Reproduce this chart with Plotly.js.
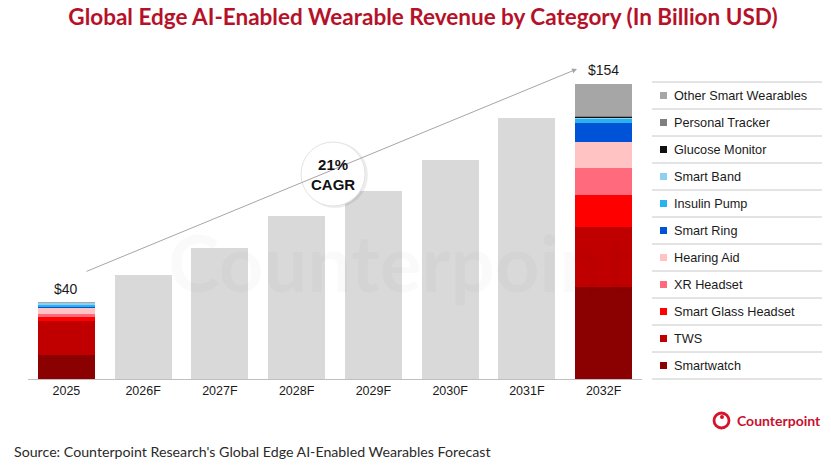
<!DOCTYPE html>
<html><head><meta charset="utf-8">
<script src="https://cdn.plot.ly/plotly-3.0.1.min.js"></script>
<style>html,body{margin:0;padding:0;background:#fff}#chart{width:831px;height:466px}</style>
</head><body><div id="chart"></div>
<script>
// ---- Data ----
const years = ["2025","2026F","2027F","2028F","2029F","2030F","2031F","2032F"];
const totals = [40, 54, 68, 85, 98, 114, 136, 154];
const totalLabels = ["$40", "", "", "", "", "", "", "$154"];
// stacking order bottom -> top
const categories = ["Smartwatch","TWS","Smart Glass Headset","XR Headset","Hearing Aid","Smart Ring","Insulin Pump","Smart Band","Glucose Monitor","Personal Tracker","Other Smart Wearables"];
const colors = ["#8b0000","#c00000","#ff0000","#ff6b7d","#ffc3c3","#0052d6","#29b2f0","#8fd0f2","#111111","#7f7f7f","#a6a6a6"];
const values2025 = [12.5, 17.8, 2.1, 1.4, 3.1, 0.8, 0.6, 1.2, 0.1, 0.1, 0.3];
const values2032 = [47.7, 31.2, 16.8, 13.9, 13.9, 9.5, 2.1, 0.9, 0.4, 0.5, 16.6];
const cagrText = "21%<br>CAGR";

// ---- Geometry (layout only) ----
const W = 831, H = 466;
const M = {l: 28, r: 189, t: 62, b: 87};
const plotW = W - M.l - M.r, plotH = H - M.t - M.b;
const yMax = 165;
const px = x => (x - M.l) / plotW;          // pixel x -> paper
const py = y => (H - M.b - y) / plotH;      // pixel y -> paper
const idx = years.map((_, i) => i);

const traces = [];
// gray bars for intermediate years
traces.push({
  type: "bar", x: idx.slice(1, 7), y: totals.slice(1, 7),
  marker: {color: "#d9d9d9"}, showlegend: false
});
categories.forEach((c, i) => {
  traces.push({
    type: "bar", name: c,
    x: [idx[0], idx[7]], y: [values2025[i], values2032[i]],
    marker: {color: colors[i]}, showlegend: false
  });
});

const annotations = [];
const shapes = [];
idx.forEach(i => {
  if (totalLabels[i]) annotations.push({
    x: i, y: totals[i], xref: "x", yref: "y", text: totalLabels[i],
    showarrow: false, yanchor: "bottom", yshift: 3,
    font: {family: "Arial, Liberation Sans, sans-serif", size: 14, color: "#1a1a1a"}
  });
});

// CAGR arrow
annotations.push({
  xref: "paper", yref: "paper", axref: "pixel", ayref: "pixel",
  x: px(577), y: py(69), ax: 85 - 577, ay: 272 - 69,
  showarrow: true, arrowhead: 2, arrowsize: 1, arrowwidth: 1, arrowcolor: "#a6a6a6", text: ""
});
// CAGR circle with shadow
shapes.push({type: "circle", xref: "paper", yref: "paper",
  x0: px(302), x1: px(368), y0: py(208), y1: py(142),
  fillcolor: "rgba(0,0,0,0.07)", line: {width: 0}});
shapes.push({type: "circle", xref: "paper", yref: "paper",
  x0: px(301), x1: px(365), y0: py(206), y1: py(142),
  fillcolor: "#ffffff", line: {color: "#e3e3e3", width: 1}});
annotations.push({xref: "paper", yref: "paper", x: px(333), y: py(174),
  text: "<b>" + cagrText + "</b>", showarrow: false,
  font: {family: "Arial, Liberation Sans, sans-serif", size: 15, color: "#111"}});

// Custom legend (top item = last category)
const legTop = 82, rowH = 27, legX0 = 652, legX1 = 822;
const legendOrder = categories.slice().reverse();
const legendColors = colors.slice().reverse();
legendOrder.forEach((c, k) => {
  const yTop = legTop + k * rowH;
  shapes.push({type: "line", xref: "paper", yref: "paper",
    x0: px(legX0), x1: px(legX1), y0: py(yTop), y1: py(yTop),
    line: {color: "#c8c8c8", width: 1}});
  const yc = yTop + rowH / 2;
  shapes.push({type: "rect", xref: "paper", yref: "paper",
    x0: px(660), x1: px(667), y0: py(yc + 3.5), y1: py(yc - 3.5),
    fillcolor: legendColors[k], line: {width: 0}});
  annotations.push({xref: "paper", yref: "paper", x: px(672), y: py(yc),
    xanchor: "left", yanchor: "middle", text: c, showarrow: false,
    font: {family: "Arial, Liberation Sans, sans-serif", size: 12.7, color: "#1a1a1a"}});
});
shapes.push({type: "line", xref: "paper", yref: "paper",
  x0: px(legX0), x1: px(legX1), y0: py(legTop + 11 * rowH), y1: py(legTop + 11 * rowH),
  line: {color: "#c8c8c8", width: 1}});

// Watermark (faint)
annotations.push({xref: "paper", yref: "paper", x: px(400), y: py(262),
  text: "<b>Counterpoint</b>", showarrow: false,
  font: {family: "Lato, sans-serif", size: 78, color: "rgba(0,0,0,0.02)"}});

// Footer source
annotations.push({xref: "paper", yref: "paper", x: px(12), y: py(452),
  xanchor: "left", yanchor: "middle", text: "Source: Counterpoint Research's Global Edge AI-Enabled Wearables Forecast",
  showarrow: false, font: {family: "Lato, sans-serif", size: 14.2, color: "#2a2a2a"}});
// Logo
shapes.push({type: "circle", xref: "paper", yref: "paper",
  x0: px(714), x1: px(729), y0: py(428), y1: py(413),
  fillcolor: "rgba(0,0,0,0)", line: {color: "#d7132a", width: 2.8}});
shapes.push({type: "circle", xref: "paper", yref: "paper",
  x0: px(720), x1: px(724), y0: py(419), y1: py(415),
  fillcolor: "#d7132a", line: {width: 0}});
annotations.push({xref: "paper", yref: "paper", x: px(735), y: py(420),
  xanchor: "left", yanchor: "middle", text: "<b>Counterpoint</b>", showarrow: false,
  font: {family: "Lato, sans-serif", size: 14, color: "#c8102e"}});

const layout = {
  width: W, height: H, margin: M,
  paper_bgcolor: "#fff", plot_bgcolor: "rgba(0,0,0,0)",
  barmode: "stack", bargap: 0.26,
  title: {text: "<b>Global Edge AI-Enabled Wearable Revenue by Category (In Billion USD)</b>",
    x: 0.509, xref: "container", xanchor: "center", y: 0.963, yanchor: "middle",
    font: {family: "Lato, sans-serif", size: 22.5, color: "#b5122a"}},
  xaxis: {type: "linear", range: [-0.5, 7.5], tickvals: idx, ticktext: years,
    showline: true, linecolor: "#bfbfbf", linewidth: 1, ticks: "", showgrid: false, zeroline: false,
    tickfont: {family: "Arial, Liberation Sans, sans-serif", size: 12.5, color: "#1a1a1a"}},
  yaxis: {range: [0, yMax], visible: false, showgrid: false, zeroline: false},
  showlegend: false,
  shapes: shapes, annotations: annotations
};
Plotly.newPlot("chart", traces, layout, {displayModeBar: false, staticPlot: true});
</script></body></html>
